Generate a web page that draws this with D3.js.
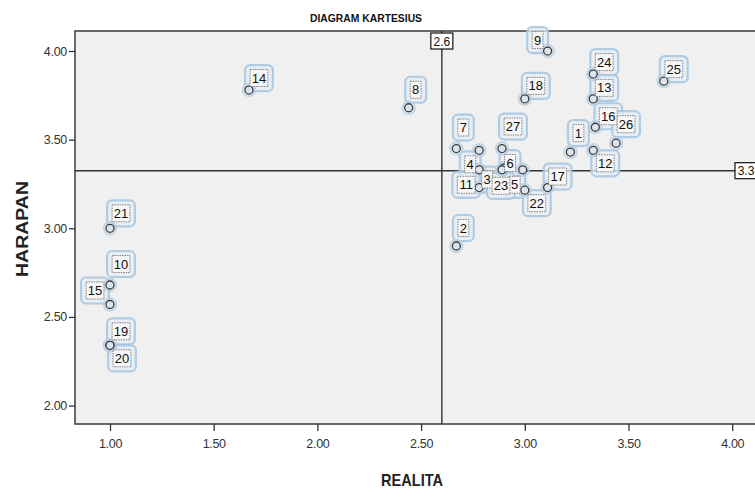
<!DOCTYPE html>
<html>
<head>
<meta charset="utf-8">
<script src="https://cdn.jsdelivr.net/npm/d3@7"></script>
<style>
  html, body { margin: 0; padding: 0; background: #fff; }
  svg { display: block; font-family: "Liberation Sans", Arial, sans-serif; }
</style>
</head>
<body>
<svg id="chart" width="755" height="489"></svg>
<script>
// ---- data ----
const ids     = [1, 2, 3, 4, 5, 6, 7, 8, 9, 10, 11, 12, 13, 14, 15, 16, 17, 18, 19, 20, 21, 22, 23, 24, 25, 26, 27];
const realita = [3.22, 2.67, 2.78, 2.78, 2.99, 2.90, 2.67, 2.44, 3.11, 1.00, 2.78, 3.33, 3.33, 1.67, 1.00, 3.34, 3.11, 3.00, 1.00, 1.00, 1.00, 3.00, 2.89, 3.33, 3.67, 3.44, 2.89];
const harapan = [3.43, 2.90, 3.23, 3.44, 3.33, 3.34, 3.45, 3.68, 4.00, 2.68, 3.33, 3.44, 3.73, 3.78, 2.57, 3.57, 3.23, 3.73, 2.34, 2.34, 3.00, 3.215, 3.33, 3.87, 3.83, 3.48, 3.45];
const xTicks  = [1.0, 1.5, 2.0, 2.5, 3.0, 3.5, 4.0];
const yTicks  = [2.0, 2.5, 3.0, 3.5, 4.0];
const refX = 2.6;     // reference line on REALITA
const refY = 3.325;   // reference line on HARAPAN
const title = "DIAGRAM KARTESIUS";
const xTitle = "REALITA";
const yTitle = "HARAPAN";

// label placement (offset of label centre from its point, in px)
const labelOffset = {
  1:[8,-19], 2:[7,-18], 3:[8,-8], 4:[-9,14], 5:[-8,15], 6:[6,-5], 7:[7,-21], 8:[7,-18],
  9:[-10,-11], 10:[11,-21], 11:[-13,15], 12:[12,13], 13:[11,-11], 14:[10,-12], 15:[-15,-14],
  16:[13,-11], 17:[10,-11], 18:[11,-13], 19:[11,-14], 20:[12,13], 21:[11,-15], 22:[12,13],
  23:[-1,16], 24:[11,-12], 25:[10,-12], 26:[10,-19], 27:[11,-22]
};

const points = ids.map((id, i) => ({ id, x: realita[i], y: harapan[i] }));

// ---- layout ----
const W = 755, H = 489;
const plot = { left: 75, top: 31, right: 760, bottom: 424 };
const svg = d3.select("#chart");

const x = d3.scaleLinear().domain([0.8312, 4.134]).range([plot.left, plot.right]);
const y = d3.scaleLinear().domain([1.896, 4.113]).range([plot.bottom, plot.top]);

// plot background + frame
svg.append("rect")
  .attr("x", plot.left).attr("y", plot.top)
  .attr("width", plot.right - plot.left).attr("height", plot.bottom - plot.top)
  .attr("fill", "#f0f0f0").attr("stroke", "#3a3a3a").attr("stroke-width", 1.5);

// axes
const fmt = d3.format(".2f");
const xAxis = svg.append("g").attr("transform", `translate(0,${plot.bottom})`)
  .call(d3.axisBottom(x).tickValues(xTicks).tickFormat(fmt).tickSizeOuter(0).tickSize(7).tickPadding(8));
const yAxis = svg.append("g").attr("transform", `translate(${plot.left},0)`)
  .call(d3.axisLeft(y).tickValues(yTicks).tickFormat(fmt).tickSizeOuter(0).tickSize(6).tickPadding(2));
[xAxis, yAxis].forEach(g => {
  g.select(".domain").remove();
  g.selectAll(".tick line").attr("stroke", "#333").attr("stroke-width", 1.3);
  g.selectAll(".tick text").attr("fill", "#333").style("font-size", "12.5px")
    .style("font-family", "'Liberation Sans', Arial, sans-serif").attr("letter-spacing", "-0.3");
});

// reference lines
svg.append("line")
  .attr("x1", x(refX)).attr("x2", x(refX)).attr("y1", plot.top).attr("y2", plot.bottom)
  .attr("stroke", "#333").attr("stroke-width", 1.4);
svg.append("line")
  .attr("x1", plot.left).attr("x2", plot.right).attr("y1", y(refY)).attr("y2", y(refY))
  .attr("stroke", "#333").attr("stroke-width", 1.4);

function refLabel(cx, cy, txt) {
  const g = svg.append("g");
  g.append("rect").attr("x", cx - 11).attr("y", cy - 8).attr("width", 22).attr("height", 16)
    .attr("fill", "#fff").attr("stroke", "#111").attr("stroke-width", 1.2);
  g.append("text").attr("x", cx).attr("y", cy + 4.5).attr("text-anchor", "middle")
    .style("font-size", "12px").attr("fill", "#111").text(txt);
}
refLabel(x(refX), plot.top + 10, d3.format(".1f")(refX));
refLabel(W - 9, y(refY), d3.format(".1f")(refY));

const charW = 6.9;
const glowG = svg.append("g");
const markG = svg.append("g");
const boxG = svg.append("g");

// point labels: outer glow boxes
points.forEach(p => {
  const [dx, dy] = labelOffset[p.id];
  const cx = x(p.x) + dx, cy = y(p.y) + dy;
  const tw = String(p.id).length * charW;
  glowG.append("rect")
    .attr("x", cx - tw / 2 - 7).attr("y", cy - 13).attr("width", tw + 14).attr("height", 26)
    .attr("rx", 5).attr("fill", "#e6eef6").attr("fill-opacity", 0.75)
    .attr("stroke", "#a6c5df").attr("stroke-width", 2.2).attr("stroke-opacity", 0.85);
});

// inner label boxes + text
points.forEach(p => {
  const [dx, dy] = labelOffset[p.id];
  const cx = x(p.x) + dx, cy = y(p.y) + dy;
  const tw = String(p.id).length * charW;
  boxG.append("rect")
    .attr("x", cx - tw / 2 - 2).attr("y", cy - 8.5).attr("width", tw + 4).attr("height", 17)
    .attr("fill", "#f6f6f6").attr("stroke", "#666").attr("stroke-width", 0.8)
    .attr("stroke-dasharray", "1.5,1");
  boxG.append("text").attr("x", cx).attr("y", cy + 4.6).attr("text-anchor", "middle")
    .style("font-size", "13px").attr("fill", "#111").text(p.id);
});

// point halos + markers (drawn above the glow)
markG.selectAll("circle.halo").data(points).join("circle")
  .attr("class", "halo").attr("cx", d => x(d.x)).attr("cy", d => y(d.y)).attr("r", 6.2)
  .attr("fill", "none").attr("stroke", "#b4cee4").attr("stroke-width", 2).attr("stroke-opacity", 0.8);
markG.selectAll("circle.pt").data(points).join("circle")
  .attr("class", "pt").attr("cx", d => x(d.x)).attr("cy", d => y(d.y)).attr("r", 4)
  .attr("fill", "#dbe4ee").attr("stroke", "#3c3c3c").attr("stroke-width", 1.3);

// titles
svg.append("text").attr("x", 366).attr("y", 22).attr("text-anchor", "middle")
  .style("font-size", "11.5px").style("font-weight", "bold").attr("fill", "#111")
  .attr("textLength", 112).attr("lengthAdjust", "spacingAndGlyphs").text(title);
svg.append("text").attr("x", 412).attr("y", 486).attr("text-anchor", "middle")
  .style("font-size", "17px").style("font-weight", "bold").attr("fill", "#222")
  .attr("textLength", 62).attr("lengthAdjust", "spacingAndGlyphs").text(xTitle);
svg.append("text").attr("transform", "translate(28,229) rotate(-90)").attr("text-anchor", "middle")
  .style("font-size", "17px").style("font-weight", "bold").attr("fill", "#222")
  .attr("textLength", 96).attr("lengthAdjust", "spacingAndGlyphs").text(yTitle);
</script>
</body>
</html>
